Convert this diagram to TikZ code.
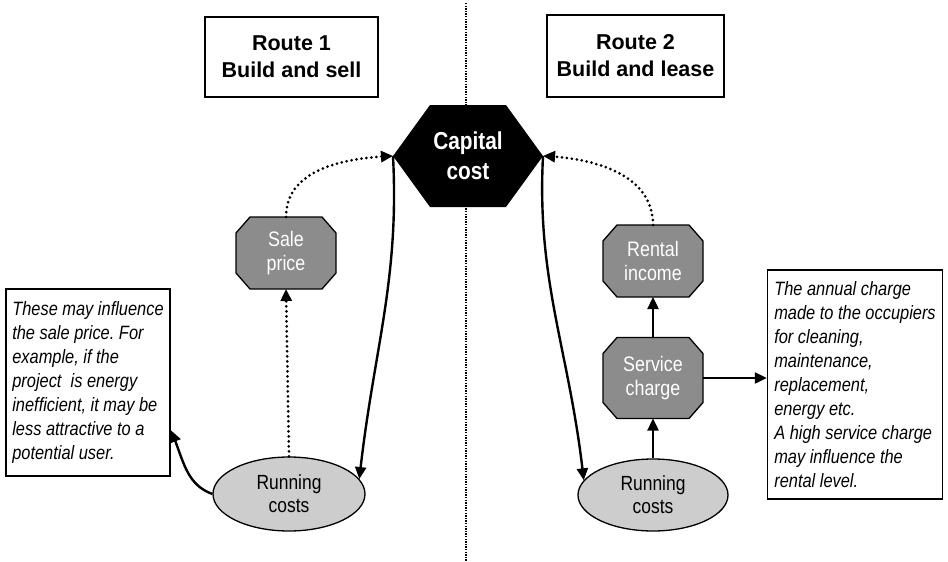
\documentclass[tikz,border=0pt]{standalone}
\usepackage{fontspec}
\setmainfont{Liberation Sans}
\newfontfamily\narrowfont{Liberation Sans}[FakeStretch=0.85]
\usetikzlibrary{arrows.meta,bending,shapes.geometric,backgrounds}
\definecolor{OctGray}{HTML}{8C8C8C}
\definecolor{OvalGray}{HTML}{CDCDCD}
\frenchspacing

\tikzset{
  routebox/.style={draw, line width=1.5pt, minimum width=173pt, minimum height=80pt,
    align=center, font=\fontsize{21.5}{27}\selectfont\bfseries},
  hexbox/.style={text=white, minimum width=150pt, minimum height=102pt, inner sep=0pt, outer sep=0pt,
    align=center, font=\narrowfont\fontsize{24.5}{30}\selectfont\bfseries},
  octbox/.style={text=white, minimum width=100pt, minimum height=72pt, inner sep=0pt, outer sep=0pt,
    align=center, font=\narrowfont\fontsize{21}{24}\selectfont},
  octline/.style={draw=black, line width=1.3pt, fill=OctGray, line join=miter},
  ovalbox/.style={ellipse, draw, line width=1.3pt, fill=OvalGray, minimum width=152pt,
    minimum height=74pt, inner sep=0pt, align=center, font=\narrowfont\fontsize{20.5}{23}\selectfont},
  notebox/.style={draw, line width=1.5pt, align=left, inner sep=6pt,
    font=\narrowfont\fontsize{19.3}{24}\selectfont\itshape},
  link/.style={line width=2.4pt, -{Triangle[length=12pt,width=11pt,bend]}},
  dotlink/.style={line width=3pt, dash pattern=on 0pt off 5pt, line cap=round,
    -{Triangle[length=12pt,width=11pt,bend]}},
  divider/.style={line width=1.8pt, dash pattern=on 1.3pt off 1.3pt}
}

\begin{document}
\begin{tikzpicture}[x=1pt,y=-1pt]
  \useasboundingbox (0,0) rectangle (948,562);

  \coordinate (divtop) at (466,3);
  \coordinate (divbot) at (466,562);

  \node[routebox] (route1) at (291.5,57) {Route 1\\Build and sell};
  \node[routebox, minimum width=177pt, minimum height=82pt] (route2) at (635.5,56) {Route 2\\Build and lease};

  \node[hexbox] (capital) at (468,156) {Capital\\cost};

  \node[octbox] (sale) at (286,253) {Sale\\price};
  \node[octbox] (rental) at (653,261) {Rental\\income};
  \node[octbox, minimum height=81pt] (service) at (653,378) {Service\\charge};

  \node[ovalbox] (runleft) at (289,494) {Running\\costs};
  \node[ovalbox, minimum width=150pt, minimum height=72pt] (runright) at (653,495) {Running\\costs};

  \node[notebox, minimum width=164pt, minimum height=187pt] (salenote) at (88,382.5)
    {These may influence\\the sale price. For\\example, if the\\project\ \ is energy\\inefficient, it may be\\less attractive to a\\potential user.};
  \node[notebox, minimum width=175pt, minimum height=229pt] (servicenote) at (855,384.5)
    {The annual charge\\made to the occupiers\\for cleaning,\\maintenance,\\replacement,\\energy etc.\\A high service charge\\may influence the\\rental level.};

  % shapes behind the texts
  \begin{scope}[on background layer]
    \draw[divider] (divtop) -- (divbot);
    \fill (capital.west) -- ([xshift=37pt]capital.north west) -- ([xshift=-37pt]capital.north east)
      -- (capital.east) -- ([xshift=-37pt]capital.south east) -- ([xshift=37pt]capital.south west) -- cycle;
    \foreach \oct in {sale,rental,service}
      \path[octline] ([xshift=14pt]\oct.north west) -- ([xshift=-14pt]\oct.north east)
        -- ([yshift=-16pt]\oct.north east) -- ([yshift=16pt]\oct.south east)
        -- ([xshift=-14pt]\oct.south east) -- ([xshift=14pt]\oct.south west)
        -- ([yshift=16pt]\oct.south west) -- ([yshift=-16pt]\oct.north west) -- cycle;
  \end{scope}

  % route 1
  \draw[dotlink] (runleft.north) -- (sale.south);
  \draw[dotlink] (sale.north) to[out=90,in=182] (capital.west);
  \draw[link] (capital.west) to[out=-87,in=84] (runleft.12);
  \draw[link] (runleft.west) to[out=160,in=-65] (salenote.-30);

  % route 2
  \draw[link] (runright.north) -- (service.south);
  \draw[link] (service.north) -- (rental.south);
  \draw[link] (service.east) -- (service.east -| servicenote.west);
  \draw[dotlink] (rental.north) to[out=90,in=-2] (capital.east);
  \draw[link] (capital.east) to[out=-93,in=96] (runright.168);
\end{tikzpicture}
\end{document}
